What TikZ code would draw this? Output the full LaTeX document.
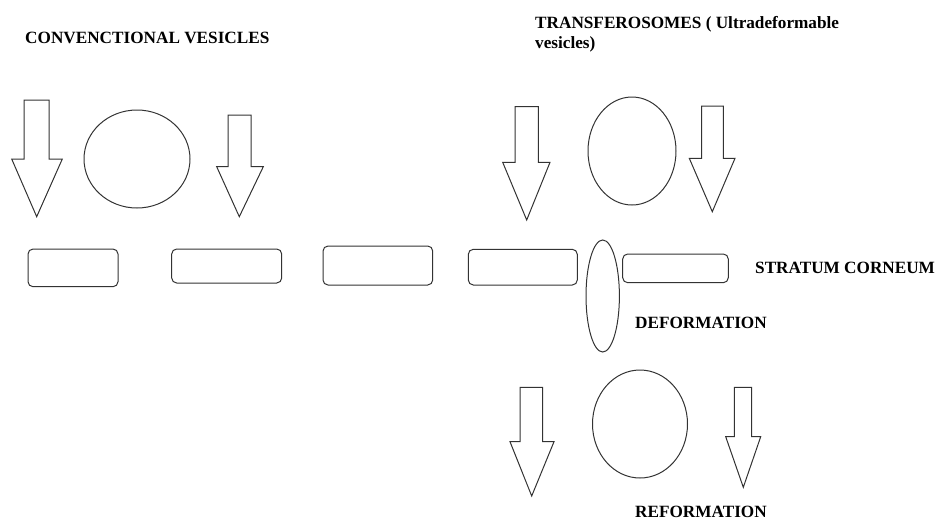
\documentclass[tikz,border=0pt]{standalone}
\usepackage{fontspec}
\setmainfont{Liberation Serif}
\usetikzlibrary{shapes.geometric}
\newcommand{\blockarrow}[8]{% shaft x1, shaft x2, top y, head y, head x1, head x2, tip x, tip y
  \draw[shapeline] (#1,-#3) -- (#2,-#3) -- (#2,-#4) -- (#6,-#4) -- (#7,-#8) -- (#5,-#4) -- (#1,-#4) -- cycle;}
\begin{document}
\begin{tikzpicture}[x=1pt,y=1pt,
  shapeline/.style={draw=black!80,line width=1pt,line join=miter},
  vesicle/.style={ellipse,draw=black!80,line width=1pt,inner sep=0pt},
  cell/.style={rectangle,draw=black!80,line width=1pt,rounded corners=5pt,inner sep=0pt},
  label/.style={font=\fontsize{17.2}{20}\selectfont\bfseries,anchor=base west,inner sep=0pt,align=left}]
\useasboundingbox (0,0) rectangle (937,-520);
% titles
\node[label] (tconv) at (25,-43.3) {CONVENCTIONAL VESICLES};
\node[label] (ttrans1) at (535,-28.3) {TRANSFEROSOMES ( Ultradeformable};
\node[label] (ttrans2) at (535,-48.3) {vesicles)};
\node[label] (tsc) at (755,-273.3) {STRATUM CORNEUM};
\node[label] (tdef) at (635,-328) {DEFORMATION};
\node[label] (tref) at (635,-517.5) {REFORMATION};
% arrows
\blockarrow{24}{49}{100}{159}{11.7}{62.3}{36.7}{216.7}
\blockarrow{228}{251}{115}{166.7}{216.7}{263.3}{239.3}{216.7}
\blockarrow{515}{538.3}{106.7}{162.3}{502.7}{550}{526.7}{220}
\blockarrow{701.7}{723.3}{106}{158.3}{689.3}{735}{712.3}{211.7}
\blockarrow{520}{542.7}{387.3}{441.7}{510}{554}{531.7}{496}
\blockarrow{734.3}{751.7}{387.3}{436.7}{725.7}{760.7}{743.3}{487.3}
% vesicles
\node[vesicle,minimum width=106pt,minimum height=98pt] (v1) at (137,-159) {};
\node[vesicle,minimum width=88pt,minimum height=108pt] (v2) at (632,-151) {};
\node[vesicle,minimum width=33.4pt,minimum height=112pt] (v3) at (602.7,-296) {};
\node[vesicle,minimum width=95pt,minimum height=108pt] (v4) at (640,-424) {};
% stratum corneum cells
\node[cell,minimum width=90pt,minimum height=37.7pt] (c1) at (73,-267.85) {};
\node[cell,minimum width=110pt,minimum height=34pt] (c2) at (226.7,-266) {};
\node[cell,minimum width=109.7pt,minimum height=39pt] (c3) at (377.85,-265.5) {};
\node[cell,minimum width=109pt,minimum height=35.7pt] (c4) at (522.8,-267.15) {};
\node[cell,minimum width=105.6pt,minimum height=28.7pt] (c5) at (675.5,-268.35) {};
\end{tikzpicture}
\end{document}
